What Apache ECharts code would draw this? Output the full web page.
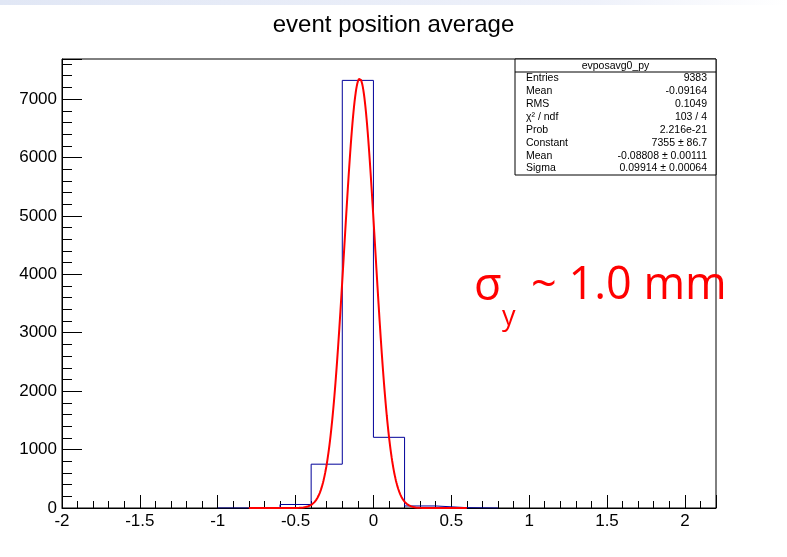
<!DOCTYPE html>
<html>
<head>
<meta charset="utf-8">
<script src="https://cdn.jsdelivr.net/npm/echarts@6/dist/echarts.min.js"></script>
<style>
  html, body { margin: 0; padding: 0; background: #fff; }
  #chart { width: 787px; height: 557px; }
</style>
</head>
<body>
<div id="chart"></div>
<script>
// histogram: bin edges (width 0.2) and counts
const binEdges = [-1.0, -0.8, -0.6, -0.4, -0.2, 0.0, 0.2, 0.4, 0.6, 0.8];
const binCounts = [0, 2, 60, 750, 7320, 1210, 35, 6, 0];

// gaus fit result (as printed in the stats box)
const fitConstant = 7355;
const fitMean = -0.08808;
const fitSigma = 0.09914;
const fitRange = [-0.8, 0.6];

// stats box rows
const statNames = ['Entries', 'Mean', 'RMS', 'χ² / ndf', 'Prob', 'Constant', 'Mean', 'Sigma'];
const statValues = ['9383', '-0.09164', '0.1049', '103 / 4', '2.216e-21', '7355 ± 86.7', '-0.08808 ± 0.00111', '0.09914 ± 0.00064'];

const FONT = 'Liberation Sans';

// outline of the histogram (step shape)
const histLine = [[binEdges[0], 0]];
for (let i = 0; i < binCounts.length; i++) {
  histLine.push([binEdges[i], binCounts[i]]);
  histLine.push([binEdges[i + 1], binCounts[i]]);
}
histLine.push([binEdges[binEdges.length - 1], 0]);

// fitted function sampled over the fit range
const fitLine = [];
for (let k = 0; k <= 400; k++) {
  const x = fitRange[0] + (fitRange[1] - fitRange[0]) * k / 400;
  const z = (x - fitMean) / fitSigma;
  fitLine.push([x, fitConstant * Math.exp(-0.5 * z * z)]);
}

const chart = echarts.init(document.getElementById('chart'));

// stats box graphic
const boxX = 515, boxY = 59, boxW = 201, boxH = 116, headH = 13;
const rowH = (boxH - headH) / statNames.length;
const statGraphics = [
  { type: 'rect', shape: { x: boxX, y: boxY, width: boxW, height: boxH },
    style: { fill: '#fff', stroke: '#000', lineWidth: 1 }, z: 10 },
  { type: 'line', shape: { x1: boxX, y1: boxY + headH, x2: boxX + boxW, y2: boxY + headH },
    style: { stroke: '#000', lineWidth: 1 }, z: 11 },
  { type: 'text', x: boxX + boxW / 2, y: boxY + headH / 2 + 0.5, z: 11,
    style: { text: 'evposavg0_py', fontFamily: FONT, fontSize: 10.5, fill: '#000', align: 'center', verticalAlign: 'middle' } }
];
statNames.forEach(function (name, i) {
  const cy = boxY + headH + rowH * (i + 0.5);
  statGraphics.push({ type: 'text', x: boxX + 11, y: cy, z: 11,
    style: { text: name, fontFamily: FONT, fontSize: 10.5, fill: '#000', align: 'left', verticalAlign: 'middle' } });
  statGraphics.push({ type: 'text', x: boxX + boxW - 9, y: cy, z: 11,
    style: { text: statValues[i], fontFamily: FONT, fontSize: 10.5, fill: '#000', align: 'right', verticalAlign: 'middle' } });
});

const option = {
  backgroundColor: '#fff',
  animation: false,
  title: {
    text: 'event position average',
    left: 'center',
    top: 8,
    textStyle: { fontFamily: FONT, fontSize: 24, fontWeight: 'normal', color: '#000' }
  },
  grid: {
    left: 62, right: 71, top: 59, bottom: 49,
    show: true, borderColor: '#000', borderWidth: 1, backgroundColor: 'transparent'
  },
  xAxis: [
    {
      type: 'value', min: -2, max: 2.2, interval: 0.5,
      axisLine: { show: true, onZero: false, lineStyle: { color: '#000', width: 1 } },
      axisTick: { show: true, inside: true, length: 13, lineStyle: { color: '#000' } },
      axisLabel: {
        fontFamily: FONT, fontSize: 17, color: '#000', margin: 5,
        formatter: function (v) { return Math.abs(v * 2 - Math.round(v * 2)) < 1e-6 ? String(+v.toFixed(1)) : ''; }
      },
      splitLine: { show: false }
    },
    {
      type: 'value', min: -2, max: 2.2, interval: 0.1, position: 'bottom',
      axisLine: { show: false, onZero: false },
      axisTick: { show: true, inside: true, length: 7, lineStyle: { color: '#000' } },
      axisLabel: { show: false },
      splitLine: { show: false }
    }
  ],
  yAxis: [
    {
      type: 'value', min: 0, max: 7686, interval: 1000,
      axisLine: { show: true, onZero: false, lineStyle: { color: '#000', width: 1 } },
      axisTick: { show: true, inside: true, length: 20, lineStyle: { color: '#000' } },
      axisLabel: {
        fontFamily: FONT, fontSize: 17, color: '#000', margin: 5,
        formatter: function (v) { return v % 1000 === 0 ? String(v) : ''; }
      },
      splitLine: { show: false }
    },
    {
      type: 'value', min: 0, max: 7686, interval: 200, position: 'left',
      axisLine: { show: false, onZero: false },
      axisTick: { show: true, inside: true, length: 10, lineStyle: { color: '#000' } },
      axisLabel: { show: false },
      splitLine: { show: false }
    }
  ],
  series: [
    {
      name: 'evposavg0_py', type: 'line', data: histLine,
      showSymbol: false, silent: true,
      lineStyle: { color: '#000099', width: 1 }, z: 3
    },
    {
      name: 'gaus', type: 'line', data: fitLine,
      showSymbol: false, silent: true, smooth: false,
      lineStyle: { color: '#ff0000', width: 2 }, z: 4
    }
  ],
  graphic: [
    { type: 'rect', shape: { x: 0, y: 0, width: 787, height: 5 }, z: 0,
      style: { fill: new echarts.graphic.LinearGradient(0, 0, 1, 0, [
        { offset: 0, color: '#e1e7f5' }, { offset: 0.75, color: '#eef1fa' }, { offset: 1, color: '#ffffff' }]) } },
    { type: 'text', x: 474, y: 310, z: 12,
      style: { text: 'σ', fontFamily: 'Open Sans', fontSize: 45, fill: '#ff0000', verticalAlign: 'bottom' } },
    { type: 'text', x: 502, y: 331, z: 12,
      style: { text: 'y', fontFamily: 'Open Sans', fontSize: 27, fill: '#ff0000', verticalAlign: 'bottom' } },
    { type: 'text', x: 531, y: 309, z: 12,
      style: { text: '~ 1.0 mm', fontFamily: 'Open Sans', fontSize: 45, fill: '#ff0000', verticalAlign: 'bottom' } }
  ].concat(statGraphics)
};

chart.setOption(option);
</script>
</body>
</html>
